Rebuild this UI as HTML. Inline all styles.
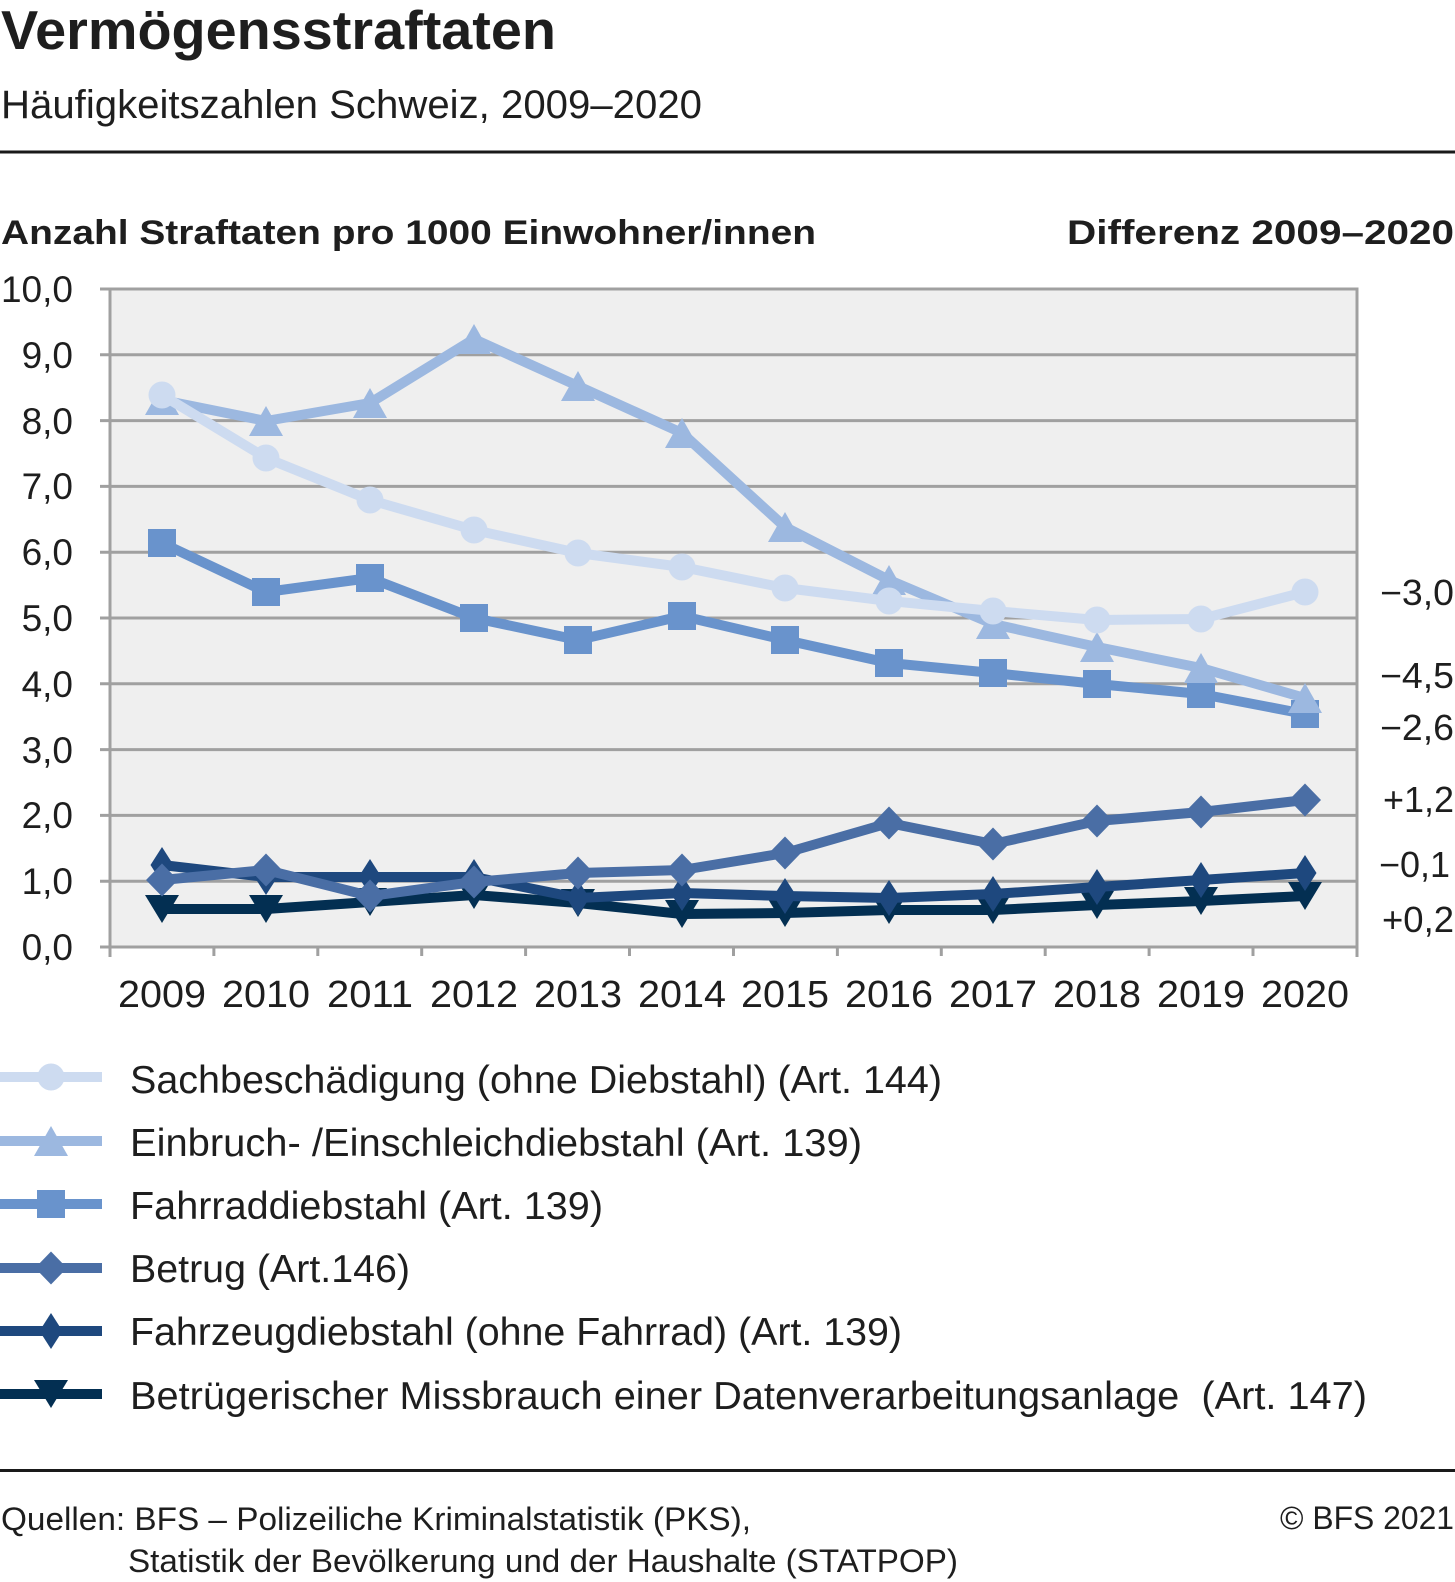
<!DOCTYPE html>
<html>
<head>
<meta charset="utf-8">
<style>
  html, body { margin: 0; padding: 0; background: #ffffff; }
  svg { display: block; }
  text { font-family: "Liberation Sans", "DejaVu Sans", sans-serif; fill: #1e1e1e; }
  .b { font-weight: bold; }
</style>
</head>
<body>
<svg width="1455" height="1582" viewBox="0 0 1455 1582" xmlns="http://www.w3.org/2000/svg">
  <defs>
    <circle id="circ" cx="0" cy="0" r="13.5"/>
    <polygon id="tri" points="0,-15 17,15 -17,15"/>
    <rect id="sq" x="-14" y="-14" width="28" height="28"/>
    <polygon id="dia" points="0,-16.5 16,0 0,16.5 -16,0"/>
    <polygon id="dia2" points="0,-18 11.5,0 0,18 -11.5,0"/>
    <polygon id="itri" points="-17,-14 17,-14 0,14"/>
  </defs>

  <!-- Title block -->
  <text class="b" x="1" y="49" font-size="55" textLength="555" lengthAdjust="spacingAndGlyphs">Vermögensstraftaten</text>
  <text x="1" y="118" font-size="40" textLength="701" lengthAdjust="spacingAndGlyphs">Häufigkeitszahlen Schweiz, 2009–2020</text>
  <rect x="0" y="150.5" width="1455" height="3" fill="#1a1a1a"/>

  <text class="b" x="1" y="244" font-size="34" textLength="815" lengthAdjust="spacingAndGlyphs">Anzahl Straftaten pro 1000 Einwohner/innen</text>
  <text class="b" x="1067" y="244" font-size="34" textLength="387" lengthAdjust="spacingAndGlyphs">Differenz 2009–2020</text>

  <!-- Plot background -->
  <rect x="110" y="289" width="1247" height="658" fill="#efefef"/>

  <!-- Gridlines -->
  <g stroke="#a0a0a0" stroke-width="3">
    <line x1="100" y1="289" x2="1357" y2="289"/>
    <line x1="100" y1="354.8" x2="1357" y2="354.8"/>
    <line x1="100" y1="420.6" x2="1357" y2="420.6"/>
    <line x1="100" y1="486.4" x2="1357" y2="486.4"/>
    <line x1="100" y1="552.2" x2="1357" y2="552.2"/>
    <line x1="100" y1="618" x2="1357" y2="618"/>
    <line x1="100" y1="683.8" x2="1357" y2="683.8"/>
    <line x1="100" y1="749.6" x2="1357" y2="749.6"/>
    <line x1="100" y1="815.4" x2="1357" y2="815.4"/>
    <line x1="100" y1="881.2" x2="1357" y2="881.2"/>
    <line x1="100" y1="947" x2="1357" y2="947"/>
    <!-- axes -->
    <line x1="110" y1="287.5" x2="110" y2="957"/>
    <line x1="1357" y1="287.5" x2="1357" y2="957"/>
    <!-- bottom ticks -->
    <line x1="213.9" y1="947" x2="213.9" y2="956"/>
    <line x1="317.8" y1="947" x2="317.8" y2="956"/>
    <line x1="421.7" y1="947" x2="421.7" y2="956"/>
    <line x1="525.6" y1="947" x2="525.6" y2="956"/>
    <line x1="629.5" y1="947" x2="629.5" y2="956"/>
    <line x1="733.5" y1="947" x2="733.5" y2="956"/>
    <line x1="837.4" y1="947" x2="837.4" y2="956"/>
    <line x1="941.3" y1="947" x2="941.3" y2="956"/>
    <line x1="1045.2" y1="947" x2="1045.2" y2="956"/>
    <line x1="1149.1" y1="947" x2="1149.1" y2="956"/>
    <line x1="1253" y1="947" x2="1253" y2="956"/>
  </g>

  <!-- Y axis labels -->
  <g font-size="37" text-anchor="end">
    <text x="73" y="302">10,0</text>
    <text x="73" y="368">9,0</text>
    <text x="73" y="434">8,0</text>
    <text x="73" y="499">7,0</text>
    <text x="73" y="565">6,0</text>
    <text x="73" y="631">5,0</text>
    <text x="73" y="697">4,0</text>
    <text x="73" y="763">3,0</text>
    <text x="73" y="828">2,0</text>
    <text x="73" y="894">1,0</text>
    <text x="73" y="960">0,0</text>
  </g>

  <!-- X axis labels -->
  <g font-size="38" text-anchor="middle">
    <text x="162" y="1007" textLength="88" lengthAdjust="spacingAndGlyphs">2009</text>
    <text x="266" y="1007" textLength="88" lengthAdjust="spacingAndGlyphs">2010</text>
    <text x="370" y="1007" textLength="86" lengthAdjust="spacingAndGlyphs">2011</text>
    <text x="474" y="1007" textLength="88" lengthAdjust="spacingAndGlyphs">2012</text>
    <text x="578" y="1007" textLength="88" lengthAdjust="spacingAndGlyphs">2013</text>
    <text x="682" y="1007" textLength="88" lengthAdjust="spacingAndGlyphs">2014</text>
    <text x="785" y="1007" textLength="88" lengthAdjust="spacingAndGlyphs">2015</text>
    <text x="889" y="1007" textLength="88" lengthAdjust="spacingAndGlyphs">2016</text>
    <text x="993" y="1007" textLength="88" lengthAdjust="spacingAndGlyphs">2017</text>
    <text x="1097" y="1007" textLength="88" lengthAdjust="spacingAndGlyphs">2018</text>
    <text x="1201" y="1007" textLength="88" lengthAdjust="spacingAndGlyphs">2019</text>
    <text x="1305" y="1007" textLength="88" lengthAdjust="spacingAndGlyphs">2020</text>
  </g>

  <!-- Series: Datenverarbeitung (drawn first / bottom) -->
  <polyline fill="none" stroke="#032f52" stroke-width="10" stroke-linejoin="round"
    points="162,909 266,909 370,902 474,895 578,903 682,914 785,913 889,910 993,910 1097,905 1201,901 1305,896"/>
  <g fill="#032f52">
    <use href="#itri" x="162" y="909"/><use href="#itri" x="266" y="909"/><use href="#itri" x="370" y="902"/>
    <use href="#itri" x="474" y="895"/><use href="#itri" x="578" y="903"/><use href="#itri" x="682" y="914"/>
    <use href="#itri" x="785" y="913"/><use href="#itri" x="889" y="910"/><use href="#itri" x="993" y="910"/>
    <use href="#itri" x="1097" y="905"/><use href="#itri" x="1201" y="901"/><use href="#itri" x="1305" y="896"/>
  </g>

  <!-- Fahrzeugdiebstahl -->
  <polyline fill="none" stroke="#1e487e" stroke-width="10" stroke-linejoin="round"
    points="162,865 266,877 370,877 474,877 578,898 682,893 785,896 889,898 993,894 1097,887 1201,880 1305,873"/>
  <g fill="#1e487e">
    <use href="#dia2" x="162" y="865"/><use href="#dia2" x="266" y="877"/><use href="#dia2" x="370" y="877"/>
    <use href="#dia2" x="474" y="877"/><use href="#dia2" x="578" y="898"/><use href="#dia2" x="682" y="893"/>
    <use href="#dia2" x="785" y="896"/><use href="#dia2" x="889" y="898"/><use href="#dia2" x="993" y="894"/>
    <use href="#dia2" x="1097" y="887"/><use href="#dia2" x="1201" y="880"/><use href="#dia2" x="1305" y="873"/>
  </g>

  <!-- Betrug -->
  <polyline fill="none" stroke="#4a6ea5" stroke-width="10" stroke-linejoin="round"
    points="162,880 266,870 370,896 474,882 578,873 682,870 785,853 889,823 993,844 1097,821 1201,812 1305,800"/>
  <g fill="#4a6ea5">
    <use href="#dia" x="162" y="880"/><use href="#dia" x="266" y="870"/><use href="#dia" x="370" y="896"/>
    <use href="#dia" x="474" y="882"/><use href="#dia" x="578" y="873"/><use href="#dia" x="682" y="870"/>
    <use href="#dia" x="785" y="853"/><use href="#dia" x="889" y="823"/><use href="#dia" x="993" y="844"/>
    <use href="#dia" x="1097" y="821"/><use href="#dia" x="1201" y="812"/><use href="#dia" x="1305" y="800"/>
  </g>

  <!-- Fahrraddiebstahl -->
  <polyline fill="none" stroke="#6993cc" stroke-width="10" stroke-linejoin="round"
    points="162,543 266,592 370,578 474,618 578,640 682,616 785,640 889,663 993,673 1097,684 1201,694 1305,714"/>
  <g fill="#6993cc">
    <use href="#sq" x="162" y="543"/><use href="#sq" x="266" y="592"/><use href="#sq" x="370" y="578"/>
    <use href="#sq" x="474" y="618"/><use href="#sq" x="578" y="640"/><use href="#sq" x="682" y="616"/>
    <use href="#sq" x="785" y="640"/><use href="#sq" x="889" y="663"/><use href="#sq" x="993" y="673"/>
    <use href="#sq" x="1097" y="684"/><use href="#sq" x="1201" y="694"/><use href="#sq" x="1305" y="714"/>
  </g>

  <!-- Einbruch -->
  <polyline fill="none" stroke="#9cb8e0" stroke-width="10" stroke-linejoin="round"
    points="162,400 266,421 370,403 474,339 578,386 682,433 785,527 889,580 993,624 1097,647 1201,668 1305,698"/>
  <g fill="#9cb8e0">
    <use href="#tri" x="162" y="400"/><use href="#tri" x="266" y="421"/><use href="#tri" x="370" y="403"/>
    <use href="#tri" x="474" y="339"/><use href="#tri" x="578" y="386"/><use href="#tri" x="682" y="433"/>
    <use href="#tri" x="785" y="527"/><use href="#tri" x="889" y="580"/><use href="#tri" x="993" y="624"/>
    <use href="#tri" x="1097" y="647"/><use href="#tri" x="1201" y="668"/><use href="#tri" x="1305" y="698"/>
  </g>

  <!-- Sachbeschädigung (top) -->
  <polyline fill="none" stroke="#cddbf0" stroke-width="10" stroke-linejoin="round"
    points="162,395 266,458 370,500 474,530 578,553 682,567 785,588 889,601 993,611 1097,620 1201,619 1305,592"/>
  <g fill="#cddbf0">
    <use href="#circ" x="162" y="395"/><use href="#circ" x="266" y="458"/><use href="#circ" x="370" y="500"/>
    <use href="#circ" x="474" y="530"/><use href="#circ" x="578" y="553"/><use href="#circ" x="682" y="567"/>
    <use href="#circ" x="785" y="588"/><use href="#circ" x="889" y="601"/><use href="#circ" x="993" y="611"/>
    <use href="#circ" x="1097" y="620"/><use href="#circ" x="1201" y="619"/><use href="#circ" x="1305" y="592"/>
  </g>

  <!-- Right-side difference labels -->
  <g font-size="36">
    <text x="1380" y="605" textLength="74" lengthAdjust="spacingAndGlyphs">−3,0</text>
    <text x="1380" y="688" textLength="74" lengthAdjust="spacingAndGlyphs">−4,5</text>
    <text x="1380" y="740" textLength="74" lengthAdjust="spacingAndGlyphs">−2,6</text>
    <text x="1383" y="812" textLength="71" lengthAdjust="spacingAndGlyphs">+1,2</text>
    <text x="1379" y="877" textLength="71" lengthAdjust="spacingAndGlyphs">−0,1</text>
    <text x="1382" y="932" textLength="72" lengthAdjust="spacingAndGlyphs">+0,2</text>
  </g>

  <!-- Legend -->
  <g>
    <rect x="0" y="1072" width="102" height="10" fill="#cddbf0"/>
    <circle cx="51" cy="1077" r="13.5" fill="#cddbf0"/>

    <rect x="0" y="1136" width="102" height="10" fill="#9cb8e0"/>
    <use href="#tri" x="51" y="1141" fill="#9cb8e0"/>

    <rect x="0" y="1199" width="102" height="10" fill="#6993cc"/>
    <use href="#sq" x="51" y="1204" fill="#6993cc"/>

    <rect x="0" y="1263" width="102" height="10" fill="#4a6ea5"/>
    <use href="#dia" x="51" y="1268" fill="#4a6ea5"/>

    <rect x="0" y="1326" width="102" height="10" fill="#1e487e"/>
    <use href="#dia2" x="51" y="1331" fill="#1e487e"/>

    <rect x="0" y="1389" width="102" height="10" fill="#032f52"/>
    <use href="#itri" x="51" y="1394" fill="#032f52"/>
  </g>
  <g font-size="39">
    <text x="130" y="1093" textLength="812" lengthAdjust="spacingAndGlyphs">Sachbeschädigung (ohne Diebstahl) (Art. 144)</text>
    <text x="130" y="1156" textLength="732" lengthAdjust="spacingAndGlyphs">Einbruch- /Einschleichdiebstahl (Art. 139)</text>
    <text x="130" y="1219" textLength="473" lengthAdjust="spacingAndGlyphs">Fahrraddiebstahl (Art. 139)</text>
    <text x="130" y="1282" textLength="280" lengthAdjust="spacingAndGlyphs">Betrug (Art.146)</text>
    <text x="130" y="1345" textLength="772" lengthAdjust="spacingAndGlyphs">Fahrzeugdiebstahl (ohne Fahrrad) (Art. 139)</text>
    <text x="130" y="1409" textLength="1237" lengthAdjust="spacingAndGlyphs" style="white-space:pre">Betrügerischer Missbrauch einer Datenverarbeitungsanlage  (Art. 147)</text>
  </g>

  <!-- Footer -->
  <rect x="0" y="1469" width="1455" height="3" fill="#1a1a1a"/>
  <g font-size="32">
    <text x="1" y="1530" textLength="750" lengthAdjust="spacingAndGlyphs">Quellen: BFS – Polizeiliche Kriminalstatistik (PKS),</text>
    <text x="128" y="1572" textLength="830" lengthAdjust="spacingAndGlyphs">Statistik der Bevölkerung und der Haushalte (STATPOP)</text>
    <text x="1280" y="1529" textLength="174" lengthAdjust="spacingAndGlyphs">© BFS 2021</text>
  </g>
</svg>
</body>
</html>
